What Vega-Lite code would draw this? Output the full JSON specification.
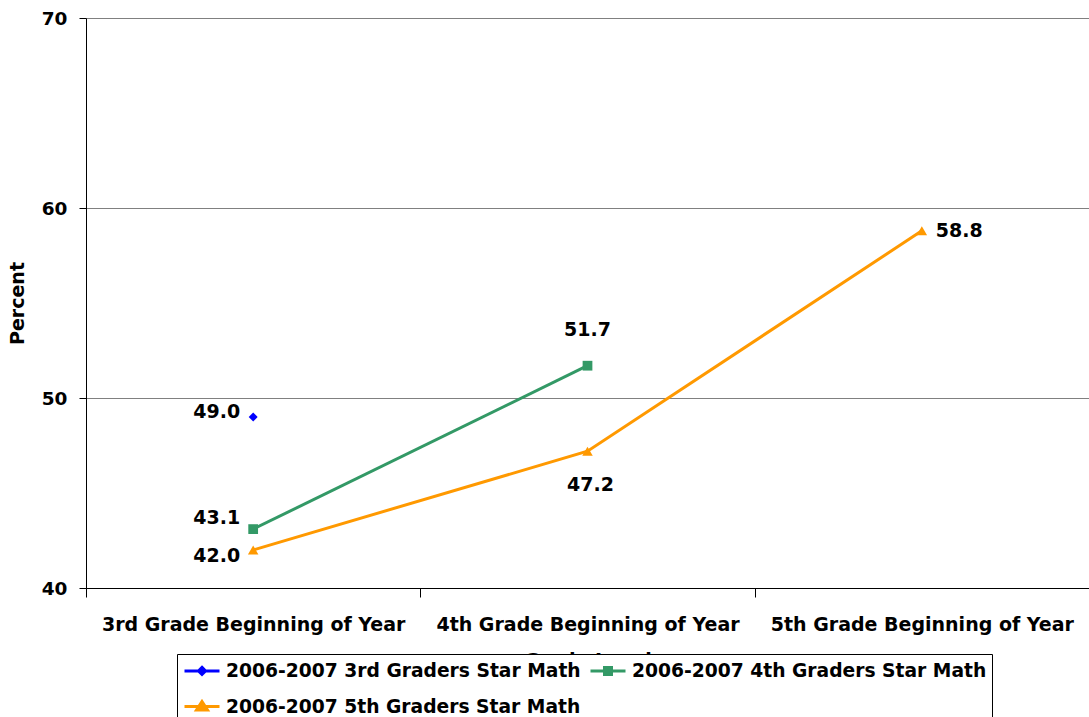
{
  "$schema": "https://vega.github.io/schema/vega-lite/v6.json",
  "width": 1003,
  "height": 570,
  "autosize": {"type": "none"},
  "padding": {"left": 86, "top": 18, "right": 0, "bottom": 129},
  "background": "white",
  "config": {
    "font": "DejaVu Sans",
    "view": {"stroke": null},
    "axis": {"labelFont": "DejaVu Sans", "titleFont": "DejaVu Sans"},
    "legend": {"labelFont": "DejaVu Sans"}
  },
  "data": {
    "values": [
      {"series": "2006-2007 3rd Graders Star Math", "grade": "3rd Grade Beginning of Year", "value": 49.0},
      {"series": "2006-2007 4th Graders Star Math", "grade": "3rd Grade Beginning of Year", "value": 43.1},
      {"series": "2006-2007 4th Graders Star Math", "grade": "4th Grade Beginning of Year", "value": 51.7},
      {"series": "2006-2007 5th Graders Star Math", "grade": "3rd Grade Beginning of Year", "value": 42.0},
      {"series": "2006-2007 5th Graders Star Math", "grade": "4th Grade Beginning of Year", "value": 47.2},
      {"series": "2006-2007 5th Graders Star Math", "grade": "5th Grade Beginning of Year", "value": 58.8}
    ]
  },
  "encoding": {
    "x": {
      "field": "grade", "type": "nominal", "sort": null,
      "scale": {"type": "band", "domain": ["3rd Grade Beginning of Year", "4th Grade Beginning of Year", "5th Grade Beginning of Year"], "paddingInner": 0, "paddingOuter": 0},
      "axis": {
        "title": "Grade Level", "titleFontSize": 19, "titleFontWeight": "bold", "titleColor": "black", "titlePadding": 17,
        "labelAngle": 0, "labelFontSize": 19, "labelFontWeight": "bold", "labelColor": "black", "labelPadding": 18, "labelLimit": 400,
        "tickBand": "extent", "tickColor": "black", "tickSize": 9, "domainColor": "black", "grid": false
      }
    },
    "y": {
      "field": "value", "type": "quantitative",
      "scale": {"domain": [40, 70], "nice": false, "zero": false},
      "axis": {
        "title": "Percent", "titleFontSize": 19, "titleFontWeight": "bold", "titleColor": "black", "titlePadding": 14,
        "values": [40, 50, 60, 70], "labelFontSize": 18.5, "labelFontWeight": "bold", "labelColor": "black", "labelPadding": 12,
        "tickColor": "black", "tickSize": 7, "domainColor": "black",
        "grid": true, "gridColor": "#808080", "gridWidth": 1
      }
    }
  },
  "layer": [
    {
      "mark": {"type": "line", "strokeWidth": 3},
      "encoding": {
        "color": {
          "field": "series", "type": "nominal",
          "scale": {"domain": ["2006-2007 3rd Graders Star Math", "2006-2007 4th Graders Star Math", "2006-2007 5th Graders Star Math"], "range": ["#0000FF", "#339966", "#FF9900"]},
          "legend": {
            "title": null, "orient": "none", "legendX": 91, "legendY": 636, "direction": "horizontal", "columns": 2,
            "labelFontSize": 18.7, "labelFontWeight": "bold", "labelColor": "black", "labelLimit": 600,
            "strokeColor": "black", "fillColor": "white", "padding": 5, "rowPadding": 14, "columnPadding": 3,
            "symbolSize": 400, "labelOffset": 21,
            "encode": {
              "symbols": {
                "update": {
                  "shape": {"signal": "datum.value === '2006-2007 3rd Graders Star Math' ? 'M-0.9,0H2.6M0.85,-0.35L1.2,0L0.85,0.35L0.5,0Z' : datum.value === '2006-2007 4th Graders Star Math' ? 'M-0.9,0H2.6M0.5,-0.35H1.2V0.35H0.5Z' : 'M-0.9,0H2.6M0.85,-0.5L1.4,0.35H0.3Z'"},
                  "fill": {"scale": "color", "field": "value"},
                  "stroke": {"scale": "color", "field": "value"},
                  "strokeWidth": {"value": 3},
                  "opacity": {"value": 1},
                  "fillOpacity": {"value": 1}
                }
              }
            }
          }
        }
      }
    },
    {
      "mark": {"type": "point", "filled": true, "opacity": 1},
      "encoding": {
        "color": {"field": "series", "type": "nominal"},
        "shape": {"field": "series", "type": "nominal", "scale": {"range": ["diamond", "square", "triangle-up"]}, "legend": null},
        "size": {"field": "series", "type": "nominal", "scale": {"range": [80, 110, 110]}, "legend": null}
      }
    },
    {
      "transform": [{"filter": "datum.series === '2006-2007 3rd Graders Star Math'"}],
      "mark": {"type": "text", "fontSize": 19, "fontWeight": "bold", "color": "black", "align": "right", "baseline": "middle", "dx": -13, "dy": -5},
      "encoding": {"text": {"field": "value", "type": "quantitative", "format": ".1f"}}
    },
    {
      "transform": [{"filter": "datum.series === '2006-2007 4th Graders Star Math' && datum.grade === '3rd Grade Beginning of Year'"}],
      "mark": {"type": "text", "fontSize": 19, "fontWeight": "bold", "color": "black", "align": "right", "baseline": "middle", "dx": -13, "dy": -11},
      "encoding": {"text": {"field": "value", "type": "quantitative", "format": ".1f"}}
    },
    {
      "transform": [{"filter": "datum.series === '2006-2007 4th Graders Star Math' && datum.grade === '4th Grade Beginning of Year'"}],
      "mark": {"type": "text", "fontSize": 19, "fontWeight": "bold", "color": "black", "align": "center", "baseline": "middle", "dy": -36},
      "encoding": {"text": {"field": "value", "type": "quantitative", "format": ".1f"}}
    },
    {
      "transform": [{"filter": "datum.series === '2006-2007 5th Graders Star Math' && datum.grade === '3rd Grade Beginning of Year'"}],
      "mark": {"type": "text", "fontSize": 19, "fontWeight": "bold", "color": "black", "align": "right", "baseline": "middle", "dx": -13, "dy": 6},
      "encoding": {"text": {"field": "value", "type": "quantitative", "format": ".1f"}}
    },
    {
      "transform": [{"filter": "datum.series === '2006-2007 5th Graders Star Math' && datum.grade === '4th Grade Beginning of Year'"}],
      "mark": {"type": "text", "fontSize": 19, "fontWeight": "bold", "color": "black", "align": "center", "baseline": "middle", "dx": 3, "dy": 34},
      "encoding": {"text": {"field": "value", "type": "quantitative", "format": ".1f"}}
    },
    {
      "transform": [{"filter": "datum.series === '2006-2007 5th Graders Star Math' && datum.grade === '5th Grade Beginning of Year'"}],
      "mark": {"type": "text", "fontSize": 19, "fontWeight": "bold", "color": "black", "align": "left", "baseline": "middle", "dx": 14, "dy": 0},
      "encoding": {"text": {"field": "value", "type": "quantitative", "format": ".1f"}}
    }
  ]
}
